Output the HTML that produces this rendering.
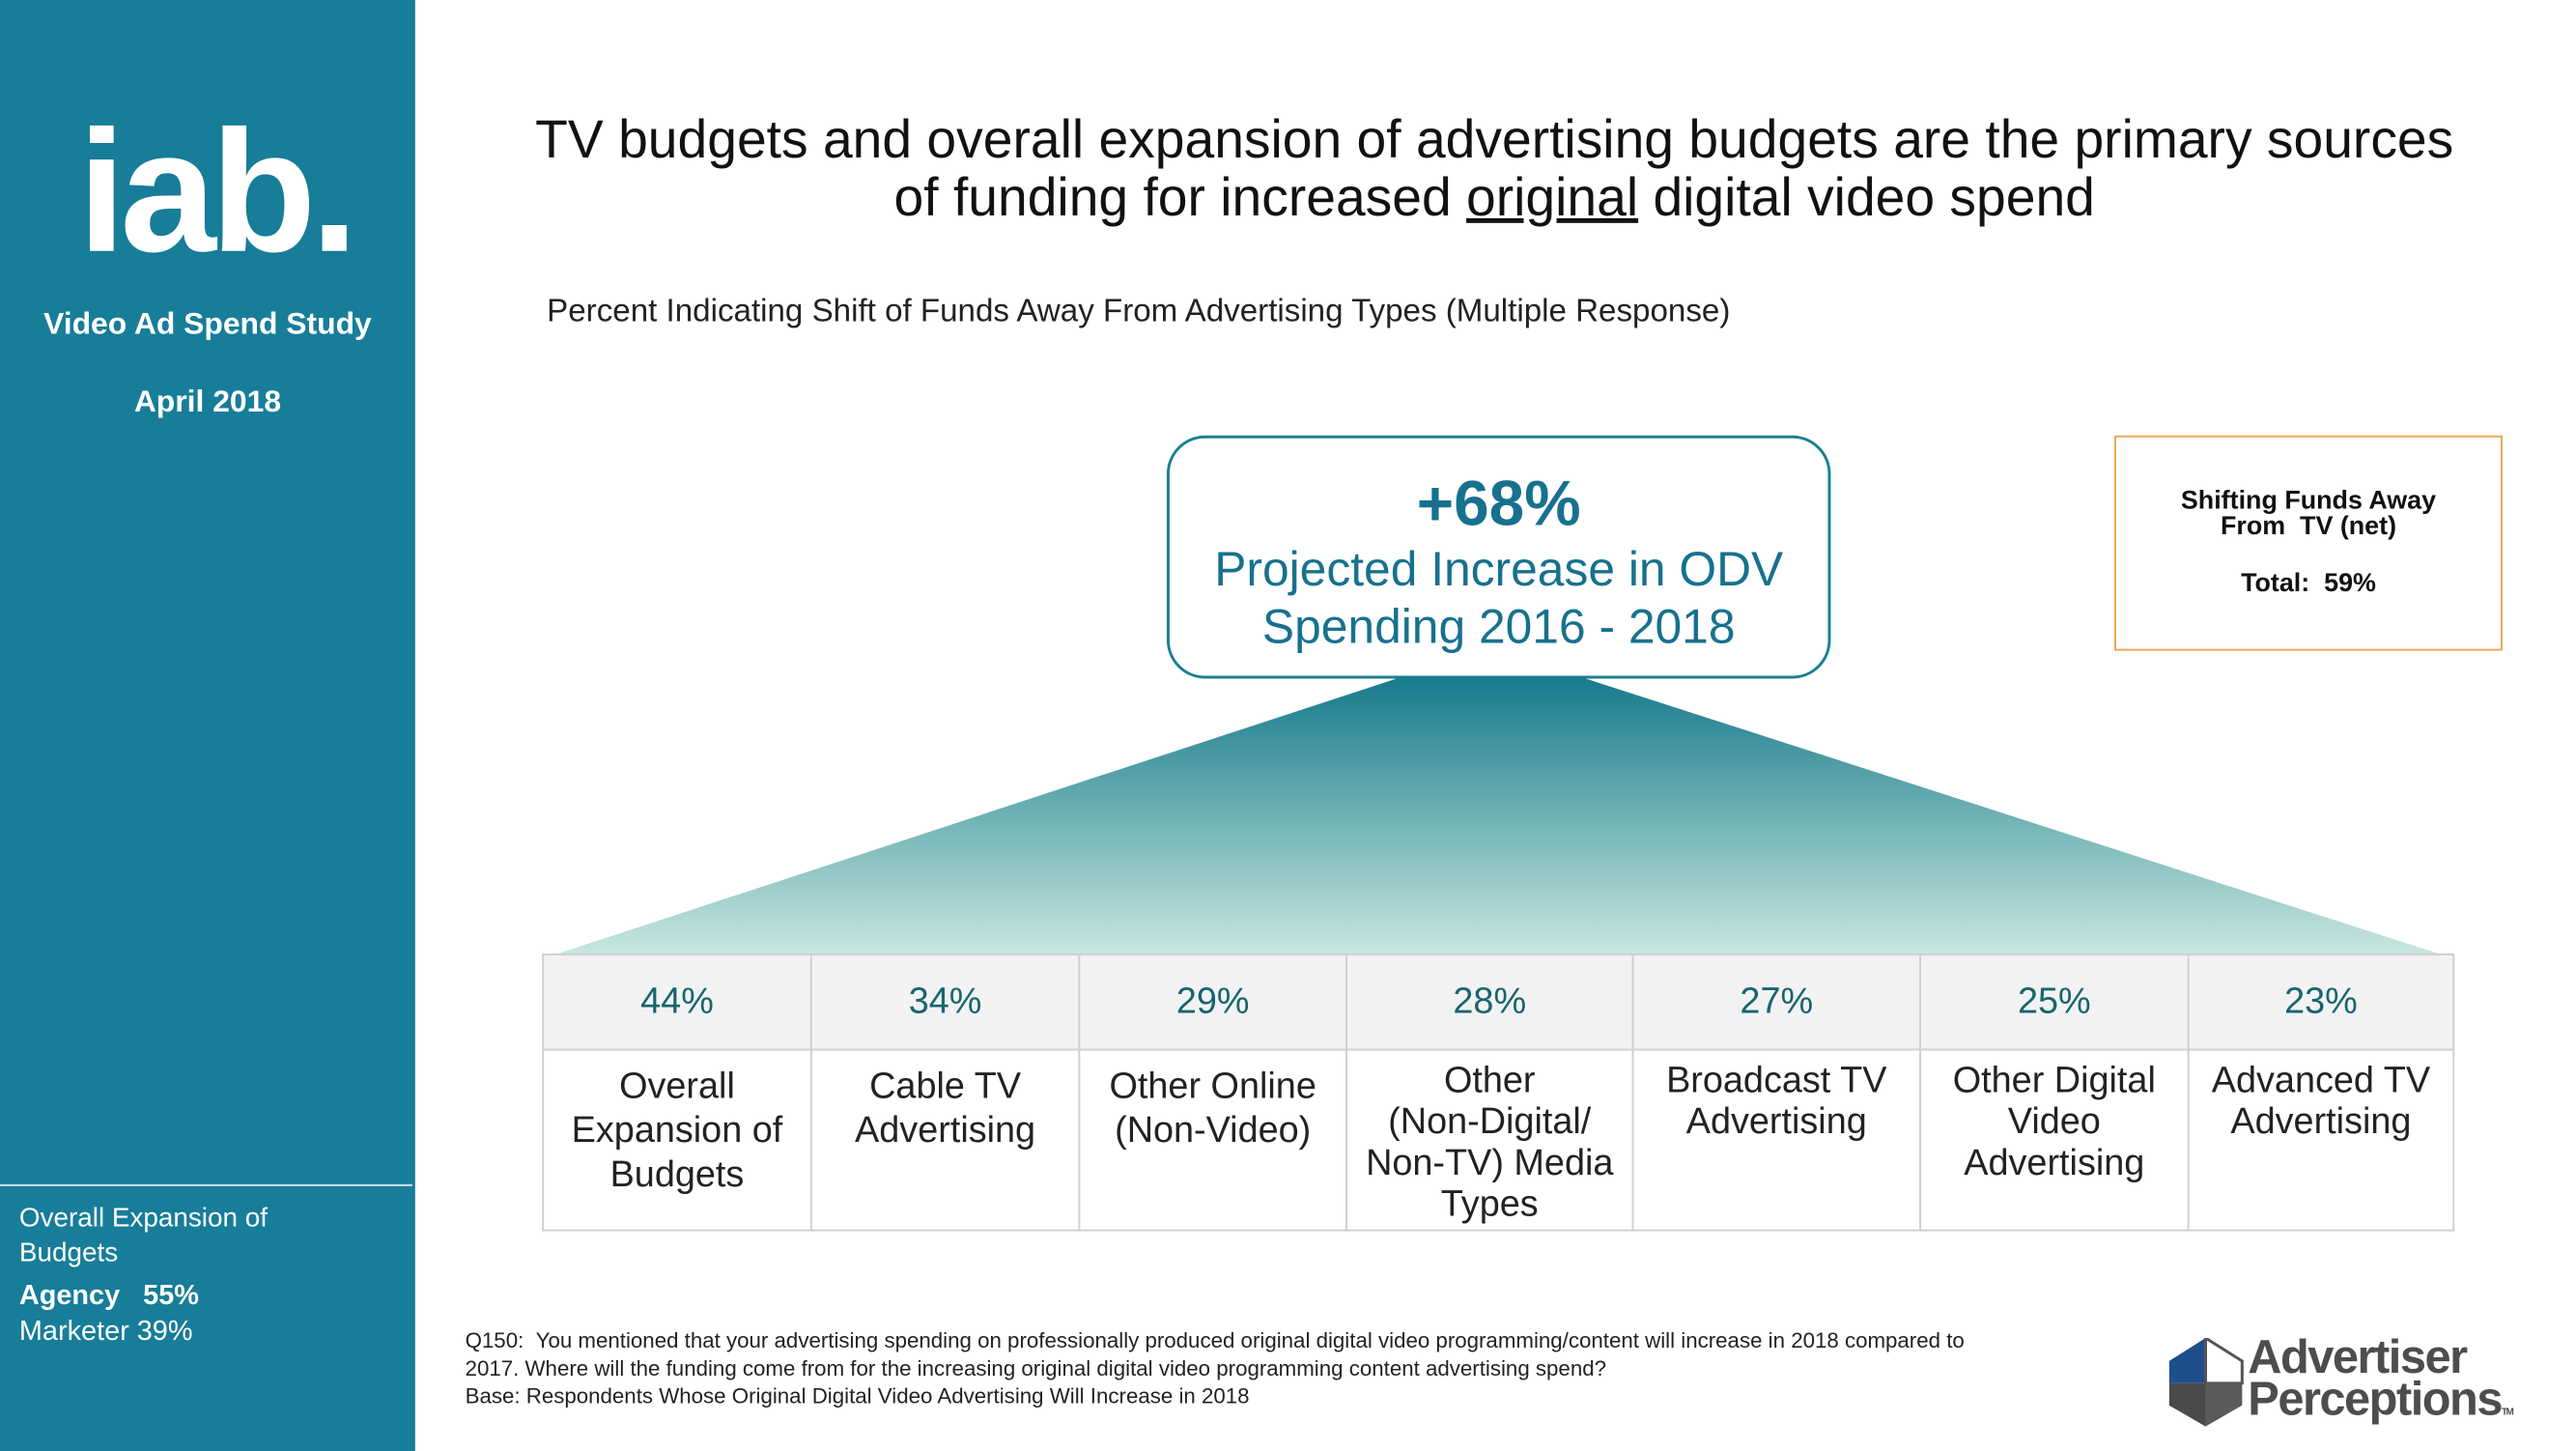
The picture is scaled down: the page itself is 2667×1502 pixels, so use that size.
<!DOCTYPE html>
<html><head><meta charset="utf-8">
<style>
*{margin:0;padding:0;box-sizing:border-box}
body{width:2667px;height:1500px;position:relative;background:#fff;font-family:"Liberation Sans",sans-serif;overflow:hidden}
#wrap{position:absolute;left:0;top:0;width:2680px;height:1510px;transform:scale(0.995);transform-origin:0 0}
.abs{position:absolute}
#side{left:0;top:0;width:432px;height:1510px;background:#177d99}
.sw{color:#fff;position:absolute}
.c{text-align:center}
</style></head><body>
<div id="wrap">
<div id="side" class="abs">
  <div class="sw c" style="left:0;width:432px;top:110px;font-size:180px;font-weight:bold;letter-spacing:-6px;line-height:180px;padding-left:16px">iab.</div>
  <div class="sw c" style="left:0;width:432px;top:318px;font-size:32px;font-weight:bold">Video Ad Spend Study</div>
  <div class="sw c" style="left:0;width:432px;top:399px;font-size:32px;font-weight:bold">April 2018</div>
  <div class="abs" style="left:0;top:1232px;width:429px;height:2px;background:#cfe3ea"></div>
  <div class="sw" style="left:20px;top:1249px;font-size:28px;line-height:36px">Overall Expansion of<br>Budgets</div>
  <div class="sw" style="left:20px;top:1332px;font-size:29px;font-weight:bold">Agency &nbsp;&nbsp;55%</div>
  <div class="sw" style="left:20px;top:1369px;font-size:29px">Marketer 39%</div>
</div>

<div class="abs c" style="left:440px;width:2230px;top:115px;font-size:55.5px;line-height:60px;color:#111">TV budgets and overall expansion of advertising budgets are the primary sources<br>of funding for increased <u>original</u> digital video spend</div>
<div class="abs" style="left:569px;top:305px;font-size:33.3px;color:#222">Percent Indicating Shift of Funds Away From Advertising Types (Multiple Response)</div>

<svg class="abs" style="left:0;top:0" width="2680" height="1510">
  <defs><linearGradient id="g" x1="0" y1="0" x2="0" y2="1"><stop offset="0" stop-color="#187a8e"/><stop offset="0.5" stop-color="#6fb2b4"/><stop offset="1" stop-color="#c8e6e0"/></linearGradient></defs>
  <polygon points="1453,706 1650,706 2537,992 581,992" fill="url(#g)"/>
</svg>

<div class="abs c" style="left:1214px;top:453px;width:691px;height:253px;border:3px solid #1a8090;border-radius:40px;background:#fff;color:#17718e">
  <div style="margin-top:30px;font-size:66px;font-weight:bold;line-height:74px">+68%</div>
  <div style="font-size:50px;line-height:60px;margin-top:2px">Projected Increase in ODV<br>Spending 2016 - 2018</div>
</div>

<div class="abs c" style="left:2200px;top:453px;width:404px;height:224px;border:2px solid #f0a654;color:#111">
  <div style="margin-top:52px;font-size:27px;font-weight:bold;line-height:27px">Shifting Funds Away<br>From &nbsp;TV (net)</div>
  <div style="margin-top:30px;font-size:27px;font-weight:bold">Total: &nbsp;59%</div>
</div>

<div id="table" class="abs" style="left:564px;top:992px;width:1990px;height:289px"></div>

<div class="abs" style="left:484px;top:1380px;font-size:22.4px;line-height:29px;color:#222">Q150: &nbsp;You mentioned that your advertising spending on professionally produced original digital video programming/content will increase in 2018 compared to<br>2017. Where will the funding come from for the increasing original digital video programming content advertising spend?</div>
<div class="abs" style="left:484px;top:1440px;font-size:22.4px;color:#222">Base: Respondents Whose Original Digital Video Advertising Will Increase in 2018</div>

<div class="abs" style="left:2257px;top:1390px;width:400px;height:95px">
  <svg width="80" height="94" style="position:absolute;left:0;top:2px">
    <polygon points="38,0 0,24 0,47 38,47" fill="#1e4f8c"/>
    <polygon points="38,0 76,24 76,47 38,47" fill="#fff" stroke="#555" stroke-width="3"/>
    <polygon points="0,47 38,47 38,92 0,70" fill="#4a4a4a"/>
    <polygon points="38,47 76,47 76,70 38,92" fill="#5a5a5a"/>
  </svg>
  <div style="position:absolute;left:82px;top:0px;font-size:49px;font-weight:bold;line-height:44px;color:#4d4d4d;letter-spacing:-1.5px">Advertiser<br>Perceptions<span style="font-size:10px">TM</span></div>
</div>
</div>

<script>
const percents = [44, 34, 29, 28, 27, 25, 23];
const categories = ["Overall Expansion of Budgets","Cable TV Advertising","Other Online (Non-Video)","Other (Non-Digital/ Non-TV) Media Types","Broadcast TV Advertising","Other Digital Video Advertising","Advanced TV Advertising"];
const labelLines = [["Overall","Expansion of","Budgets"],["Cable TV","Advertising"],["Other Online","(Non-Video)"],["Other","(Non-Digital/","Non-TV) Media","Types"],["Broadcast TV","Advertising"],["Other Digital","Video","Advertising"],["Advanced TV","Advertising"]];
const colEdges = [0,279,558,836,1134,1433,1712,1990];
const t = document.getElementById('table');
percents.forEach((p,i)=>{
  const x = colEdges[i], w = colEdges[i+1]-colEdges[i];
  const h = document.createElement('div');
  
  
  h.style.cssText = `position:absolute;left:${x}px;top:0;width:${w}px;height:101px;background:#f2f2f2;border:2px solid #d0d0d0;border-right:${i==6?'2px solid #d0d0d0':'none'};color:#17656e;font-size:38px;text-align:center;line-height:97px`;
  h.textContent = p + '%';
  t.appendChild(h);
  const c = document.createElement('div');
  
  
  const four = i >= 3;
  c.style.cssText = `position:absolute;left:${x}px;top:101px;width:${w}px;height:188px;border:2px solid #d0d0d0;border-top:none;border-right:${i==6?'2px solid #d0d0d0':'none'};color:#222;font-size:38px;text-align:center;line-height:${four?43:46}px;padding-top:${four?10:14}px`;
  c.title = categories[i];
  c.innerHTML = labelLines[i].join('<br>');
  t.appendChild(c);
});
</script>
</body></html>
